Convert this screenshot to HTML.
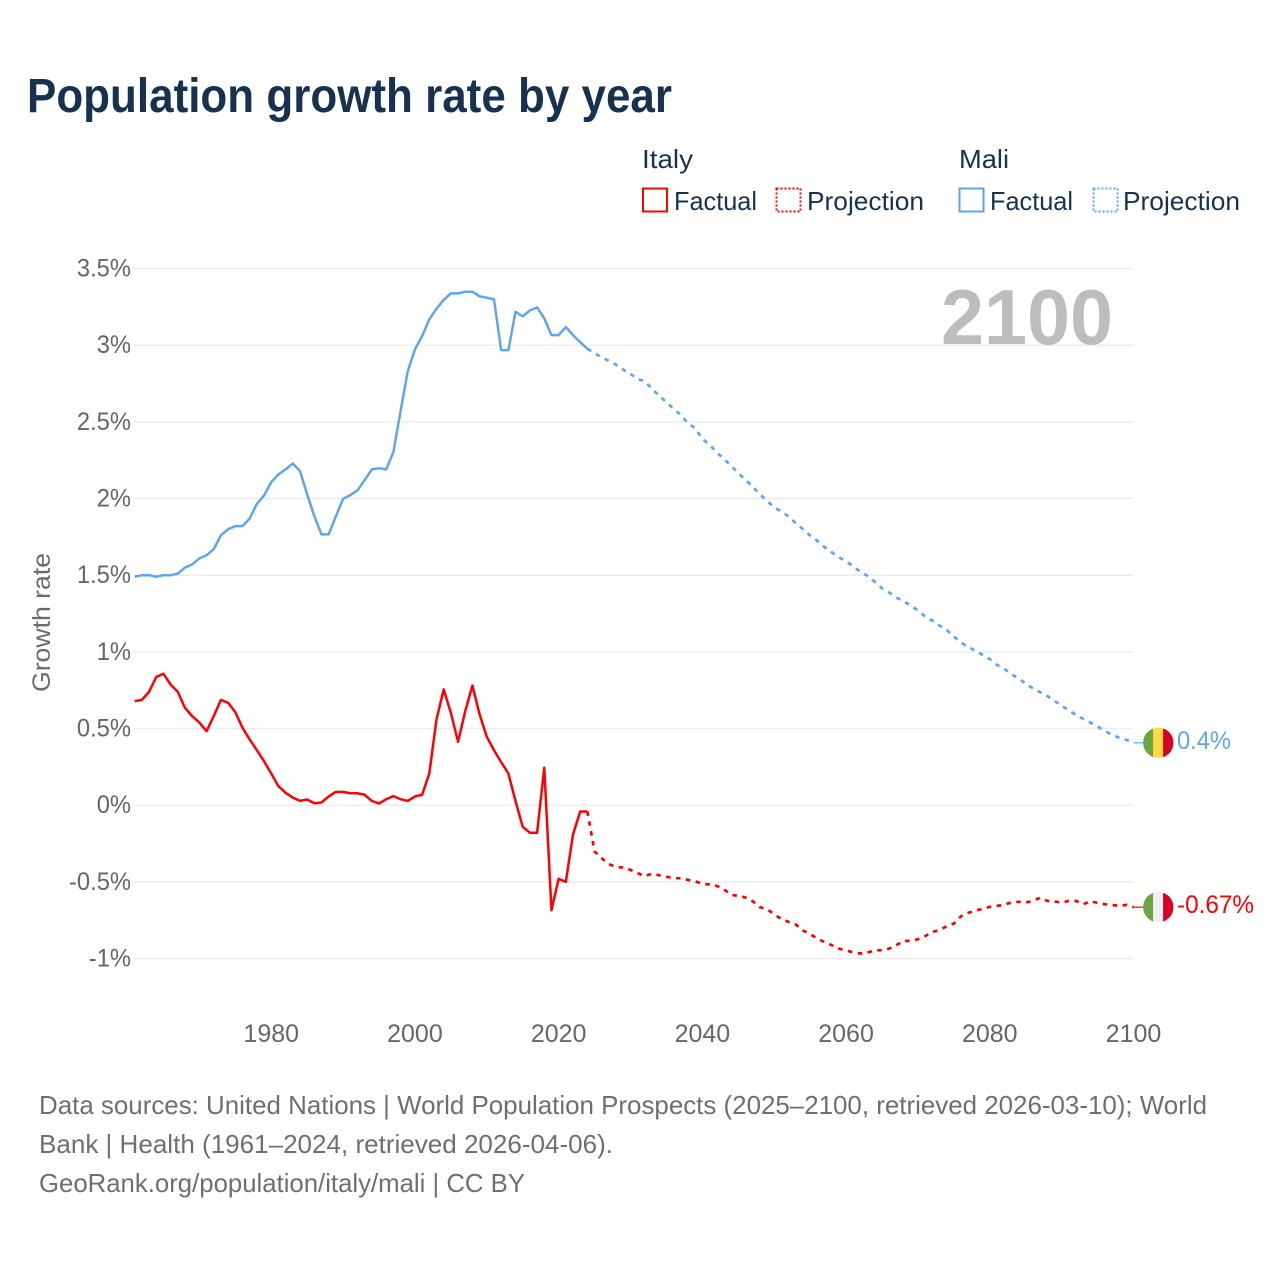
<!DOCTYPE html>
<html lang="en">
<head>
<meta charset="utf-8">
<title>Population growth rate by year</title>
<style>
html,body{margin:0;padding:0;background:#fff;}
svg{display:block;}
text{font-family:"Liberation Sans",sans-serif;}
</style>
</head>
<body>
<svg id="chart" xmlns="http://www.w3.org/2000/svg" width="1280" height="1280" viewBox="0 0 1280 1280">
  <rect width="1280" height="1280" fill="#fff"/>
  <text x="27" y="112" font-size="48" font-weight="700" fill="#17324f" textLength="645" lengthAdjust="spacingAndGlyphs">Population growth rate by year</text>

  <g font-size="26" fill="#17324f">
    <text x="642" y="168" textLength="51" lengthAdjust="spacingAndGlyphs">Italy</text>
    <text x="959" y="168" textLength="50" lengthAdjust="spacingAndGlyphs">Mali</text>
    <g>
      <rect x="643" y="188.5" width="24" height="23" fill="none" stroke="#ff0000" stroke-width="2"/>
      <text x="674" y="210" textLength="83" lengthAdjust="spacingAndGlyphs">Factual</text>
    </g>
    <g>
      <rect x="776.5" y="188.5" width="24" height="23" fill="none" stroke="#ff0000" stroke-width="2" stroke-dasharray="2,2"/>
      <text x="807" y="210" textLength="117" lengthAdjust="spacingAndGlyphs">Projection</text>
    </g>
    <g>
      <rect x="959.5" y="188.5" width="24" height="23" fill="none" stroke="#5ea5ee" stroke-width="2"/>
      <text x="990" y="210" textLength="83" lengthAdjust="spacingAndGlyphs">Factual</text>
    </g>
    <g>
      <rect x="1093.5" y="188.5" width="24" height="23" fill="none" stroke="#5ea5ee" stroke-width="2" stroke-dasharray="2,2"/>
      <text x="1123" y="210" textLength="117" lengthAdjust="spacingAndGlyphs">Projection</text>
    </g>
  </g>

  <g id="grid"></g>
  <g id="yticks"></g>
  <g id="xticks"></g>

  <text x="941" y="344" font-size="78" font-weight="700" fill="#bdbdbd" textLength="172" lengthAdjust="spacingAndGlyphs">2100</text>
  <text transform="translate(50,692) rotate(-90)" font-size="25" fill="#6b6b6b" textLength="139" lengthAdjust="spacingAndGlyphs">Growth rate</text>

  <g id="series"></g>
  <g id="ends"></g>

  <g font-size="26" fill="#6f6f6f">
    <text x="39" y="1114" textLength="1168" lengthAdjust="spacingAndGlyphs">Data sources: United Nations | World Population Prospects (2025–2100, retrieved 2026-03-10); World</text>
    <text x="39" y="1153" textLength="574" lengthAdjust="spacingAndGlyphs">Bank | Health (1961–2024, retrieved 2026-04-06).</text>
    <text x="39" y="1192" textLength="486" lengthAdjust="spacingAndGlyphs">GeoRank.org/population/italy/mali | CC BY</text>
  </g>
</svg>
<script>
const firstYear = 1961;
const lastFactualYear = 2024;
const lastYear = 2100;
const xTickYears = [1980, 2000, 2020, 2040, 2060, 2080, 2100];
const yTickValues = [3.5, 3, 2.5, 2, 1.5, 1, 0.5, 0, -0.5, -1];
const yTickLabels = ['3.5%', '3%', '2.5%', '2%', '1.5%', '1%', '0.5%', '0%', '-0.5%', '-1%'];
const italyEndLabel = '-0.67%';
const maliEndLabel = '0.4%';

const italyFactual = [
  .679,.687,.739,.837,.857,.787,.739,.635,.581,.539,
  .483,.581,.687,.668,.607,.505,.429,.359,.287,.207,
  .124,.081,.050,.028,.037,.013,.018,.057,.087,.087,
  .078,.078,.068,.028,.011,.039,.059,.039,.028,.057,
  .068,.207,.559,.755,.603,.413,.613,.781,.592,.446,
  .359,.281,.207,.026,-.141,-.180,-.180,.244,-.685,-.480,
  -.500,-.191,-.041,-.041
];
const italyProjection = [
  -.302,-.346,-.385,-.402,-.407,-.422,-.443,-.463,-.446,-.457,
  -.467,-.474,-.478,-.487,-.496,-.513,-.517,-.526,-.548,-.585,
  -.591,-.602,-.626,-.665,-.678,-.711,-.743,-.761,-.778,-.817,
  -.841,-.870,-.893,-.913,-.935,-.948,-.959,-.967,-.961,-.946,
  -.946,-.935,-.913,-.885,-.885,-.874,-.854,-.826,-.815,-.789,
  -.772,-.724,-.702,-.687,-.676,-.663,-.657,-.648,-.635,-.630,
  -.635,-.624,-.604,-.624,-.628,-.635,-.624,-.624,-.646,-.626,
  -.637,-.646,-.650,-.657,-.650,-.665
];
const maliFactual = [
  1.49,1.50,1.50,1.49,1.50,1.50,1.51,1.55,1.57,1.61,
  1.63,1.67,1.76,1.80,1.82,1.82,1.87,1.965,2.02,2.107,
  2.157,2.19,2.229,2.18,2.027,1.885,1.766,1.766,1.885,1.998,
  2.022,2.053,2.12,2.19,2.198,2.19,2.303,2.57,2.83,2.973,
  3.06,3.168,3.238,3.295,3.338,3.338,3.349,3.349,3.319,3.31,
  3.299,2.968,2.968,3.218,3.188,3.227,3.247,3.175,3.066,3.066,
  3.118,3.066,3.02,2.977
];
const maliProjection = [
  2.948,2.92,2.898,2.872,2.84,2.813,2.778,2.765,2.715,2.67,
  2.628,2.585,2.546,2.49,2.459,2.389,2.352,2.30,2.259,2.213,
  2.167,2.122,2.078,2.028,1.985,1.941,1.917,1.883,1.839,1.80,
  1.759,1.724,1.683,1.65,1.617,1.591,1.557,1.522,1.496,1.457,
  1.415,1.387,1.354,1.33,1.302,1.27,1.23,1.204,1.172,1.143,
  1.10,1.061,1.03,1.009,.98,.952,.915,.891,.854,.828,
  .791,.763,.737,.713,.68,.65,.617,.589,.563,.539,
  .513,.485,.459,.441,.426,.407
];

const NS = 'http://www.w3.org/2000/svg';
const RED = '#ff0000';
const BLUE = '#5ea5ee';
const xAxis = year => 134.7 + (year - firstYear) * (1133.5 - 134.7) / (lastYear - firstYear);
const yAxis = value => 805.2 - value * 153.33;

function make(tag, attrs, parent) {
  const node = document.createElementNS(NS, tag);
  for (const key in attrs) node.setAttribute(key, attrs[key]);
  parent.appendChild(node);
  return node;
}
function squeeze(node, factor) {
  const measured = node.getComputedTextLength();
  node.setAttribute('textLength', (measured * factor).toFixed(1));
  node.setAttribute('lengthAdjust', 'spacingAndGlyphs');
}
function pathFrom(startYear, values) {
  return values.map((v, i) =>
    (i ? 'L' : 'M') + xAxis(startYear + i).toFixed(2) + ' ' + yAxis(v).toFixed(2)).join('');
}

const gridGroup = document.getElementById('grid');
const yGroup = document.getElementById('yticks');
yTickValues.forEach((value, i) => {
  const line = make('line', {x1: 134, x2: 1133, y1: yAxis(value), y2: yAxis(value), stroke: '#ececec', 'stroke-width': 1.5}, gridGroup);
  
  
  const label = make('text', {x: 131, y: yAxis(value) + 8, 'text-anchor': 'end', 'font-size': 25, fill: '#666'}, yGroup);
  label.textContent = yTickLabels[i];
  
  
  squeeze(label, 0.95);
});

const xGroup = document.getElementById('xticks');
xTickYears.forEach(year => {
  const label = make('text', {x: xAxis(year), y: 1042, 'text-anchor': 'middle', 'font-size': 25, fill: '#666'}, xGroup);
  label.textContent = String(year);
  
  
  squeeze(label, 1.0);
});

const seriesGroup = document.getElementById('series');
function drawSeries(factual, projection, color, key) {
  const solid = make('path', {d: pathFrom(firstYear, factual), fill: 'none', stroke: color, 'stroke-width': 2.5, 'stroke-linejoin': 'round'}, seriesGroup);
  
  
  const joined = [factual[factual.length - 1]].concat(projection);
  const dashed = make('path', {d: pathFrom(lastFactualYear, joined), fill: 'none', stroke: color, 'stroke-width': 2.7, 'stroke-dasharray': '4.5,5.5'}, seriesGroup);
  
  
}
drawSeries(italyFactual, italyProjection, RED, 'italy');
drawSeries(maliFactual, maliProjection, BLUE, 'mali');

const endGroup = document.getElementById('ends');
const defs = make('defs', {}, endGroup);
function drawEnd(projection, color, key, stripeColors, text, labelWidth) {
  const last = projection[projection.length - 1];
  const cy = yAxis(last);
  const tail = make('line', {x1: xAxis(lastYear), x2: 1144, y1: cy, y2: cy, stroke: color, 'stroke-width': 1.2}, endGroup);
  
  
  const clip = make('clipPath', {id: 'clip-' + key}, defs);
  make('circle', {cx: 1158.3, cy: cy, r: 15.2}, clip);
  const flag = make('g', {'clip-path': 'url(#clip-' + key + ')'}, endGroup);
  
  
  stripeColors.forEach((c, i) => {
    make('rect', {x: 1143.1 + i * 10, y: cy - 16, width: 10.3, height: 32, fill: c}, flag);
  });
  const label = make('text', {x: 1177, y: cy + 6, 'font-size': 25, fill: color, textLength: labelWidth, lengthAdjust: 'spacingAndGlyphs'}, endGroup);
  label.textContent = text;
  
  
}
drawEnd(italyProjection, RED, 'italy', ['#6da544', '#f0f0f0', '#d80027'], italyEndLabel, 77);
drawEnd(maliProjection, BLUE, 'mali', ['#6da544', '#ffda44', '#d80027'], maliEndLabel, 54);
</script>
</body>
</html>
